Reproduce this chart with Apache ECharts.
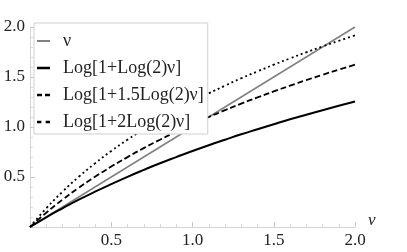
<!DOCTYPE html>
<html><head><meta charset="utf-8">
<script src="https://cdn.jsdelivr.net/npm/echarts@6/dist/echarts.min.js"></script>
<style>html,body{margin:0;padding:0;background:#fff}#c{width:407px;height:252px}</style>
</head><body><div id="c"></div>
<script>
var nu = [0,0.1,0.2,0.3,0.4,0.5,0.6,0.7,0.8,0.9,1.0,1.1,1.2,1.3,1.4,1.5,1.6,1.7,1.8,1.9,2.0];
var yNu = [0,0.1,0.2,0.3,0.4,0.5,0.6,0.7,0.8,0.9,1.0,1.1,1.2,1.3,1.4,1.5,1.6,1.7,1.8,1.9,2.0];
var yLog1 = [0,0.097,0.187,0.273,0.353,0.429,0.502,0.571,0.637,0.699,0.760,0.818,0.873,0.927,0.978,1.028,1.077,1.123,1.168,1.212,1.255];
var yLog15 = [0,0.143,0.273,0.392,0.502,0.604,0.699,0.789,0.873,0.953,1.028,1.100,1.168,1.234,1.296,1.356,1.413,1.469,1.522,1.573,1.623];
var yLog2 = [0,0.187,0.353,0.502,0.636,0.760,0.873,0.978,1.077,1.168,1.255,1.336,1.413,1.487,1.556,1.623,1.686,1.747,1.805,1.862,1.916];
var names = ['\u03bd','Log[1+Log(2)\u03bd]','Log[1+1.5Log(2)\u03bd]','Log[1+2Log(2)\u03bd]'];
var tickLabels = ['0.5','1.0','1.5','2.0'];

function pts(ys){ return nu.map(function(x,i){ return [x, ys[i]]; }); }
var serif = 'Liberation Serif';
function axis(isX){
  return {
    type:'value', min:0, max:2, interval:0.5,
    name: isX ? '\u03bd' : '',
    nameLocation:'end', nameGap:13,
    nameTextStyle:{fontFamily:serif,fontSize:17,fontStyle:'italic',color:'#222',verticalAlign:'bottom',lineHeight:12},
    axisLine:{show:true,onZero:false,lineStyle:{color:'#d4d4d4',width:1}},
    axisTick:{show:true,inside:true,length:5,lineStyle:{color:'#c8c8c8'}},
    minorTick:{show:true,splitNumber:5,length:3,lineStyle:{color:'#d8d8d8'}},
    splitLine:{show:false},
    axisLabel:{
      fontFamily:serif,fontSize:17,color:'#222',margin:5,
      formatter:function(v){ var s=v.toFixed(1); return tickLabels.indexOf(s)>=0?s:''; }
    }
  };
}
var icons = [
  'path://M0,0h13v2h-13z',
  'path://M0,0h13v2.5h-13z',
  'path://M0,0h5v2.5h-5z M8,0h5v2.5h-5z',
  'path://M0,0h4v2.5h-4z M8,0h4v2.5h-4z'
];
var chart = echarts.init(document.getElementById('c'));
chart.setOption({
  animation:false,
  backgroundColor:'#fff',
  grid:{left:30,right:52,top:27,bottom:25,containLabel:false},
  xAxis:axis(true),
  yAxis:axis(false),
  legend:{
    orient:'vertical',left:34,top:23,
    backgroundColor:'#fff',borderColor:'#cfcfcf',borderWidth:1,borderRadius:0,
    padding:[9,4,3,3],itemGap:9,itemWidth:13,itemHeight:20,symbolKeepAspect:true,
    textStyle:{fontFamily:serif,fontSize:18,color:'#222',padding:[0,0,0,8]},
    data:names.map(function(n,i){ return {name:n, icon:icons[i]}; })
  },
  series:[
    {name:names[0],type:'line',data:pts(yNu),symbol:'none',smooth:false,lineStyle:{color:'#808080',width:1.5},itemStyle:{color:'#808080'},z:2},
    {name:names[1],type:'line',data:pts(yLog1),symbol:'none',smooth:true,lineStyle:{color:'#000',width:2},itemStyle:{color:'#000'},z:3},
    {name:names[2],type:'line',data:pts(yLog15),symbol:'none',smooth:true,lineStyle:{color:'#000',width:1.8,type:[6,3]},itemStyle:{color:'#000'},z:3},
    {name:names[3],type:'line',data:pts(yLog2),symbol:'none',smooth:true,lineStyle:{color:'#000',width:1.8,type:[2,3]},itemStyle:{color:'#000'},z:3}
  ]
});
</script></body></html>
